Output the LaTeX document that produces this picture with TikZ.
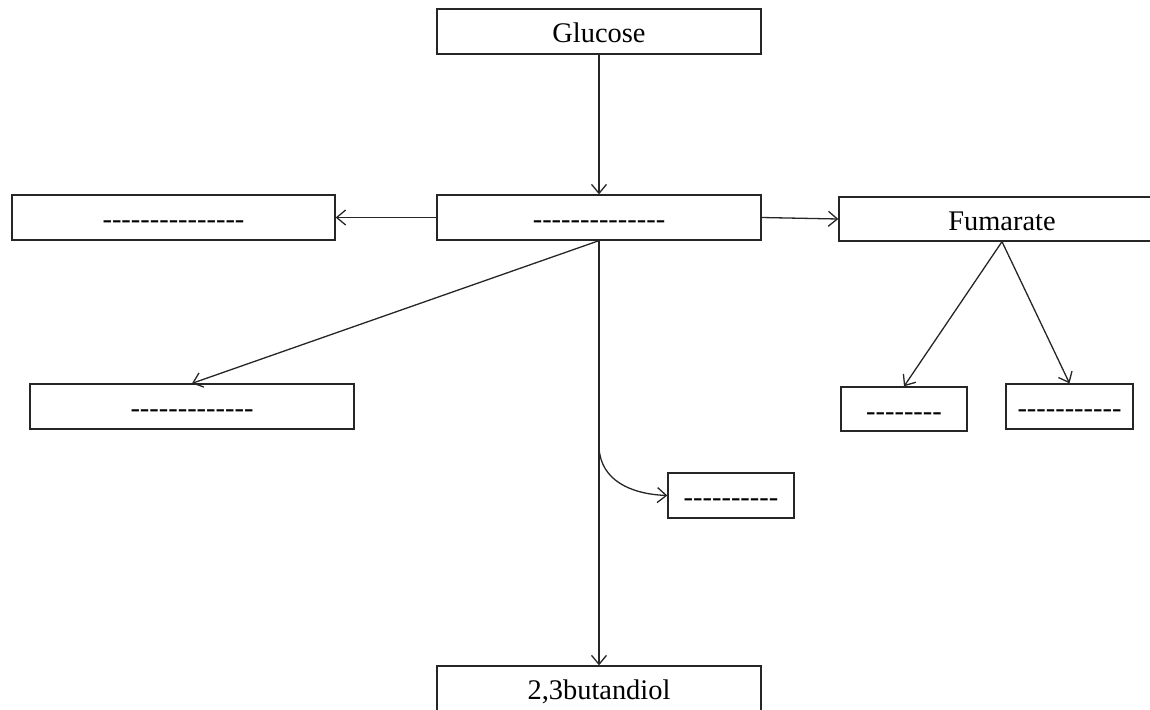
\documentclass[tikz,border=0pt]{standalone}
\usepackage{fontspec}
\setmainfont{Liberation Serif}
\usetikzlibrary{arrows.meta}
\ExplSyntaxOn
\cs_new:Npn \dashrow #1 {\prg_replicate:nn{#1}{-\kern0pt}}
\ExplSyntaxOff
\tikzset{
  box/.style={draw=black!85, line width=1.3pt, inner sep=0pt, minimum height=45pt,
    text height=22pt, text depth=0pt,
    font=\fontsize{28.4}{32}\selectfont, text=black},
  conn/.style={draw=black!85, line width=1.3pt, -{Straight Barb[length=9pt,width=15pt,line width=1.3pt]}}
}
\begin{document}
\begin{tikzpicture}[x=1pt,y=-1pt]
\useasboundingbox (0,0) rectangle (1150,709);
\clip (0,0) rectangle (1150,709);
\node[box, minimum width=324pt] (glu) at (599,31.5) {Glucose};
\node[box, minimum width=324pt] (mid) at (599,217.5) {\dashrow{14}};
\node[box, minimum width=323pt] (left) at (173.5,217.5) {\dashrow{15}};
\node[box, minimum width=326pt, minimum height=44pt] (fum) at (1002,219) {Fumarate};
\node[box, minimum width=324pt] (ll) at (192,406.5) {\dashrow{13}};
\node[box, minimum width=126pt, minimum height=44pt] (s1) at (904,409) {\dashrow{8}};
\node[box, minimum width=127pt] (s2) at (1069.5,406.5) {\dashrow{11}};
\node[box, minimum width=126pt] (s3) at (731,495.5) {\dashrow{10}};
\node[box, minimum width=324pt] (bot) at (599,688.5) {2,3butandiol};
\coordinate (cb) at (599,448);
\draw[conn] (glu.south) -- (mid.north);
\draw[conn] (mid.west) -- (left.east);
\draw[conn] (mid.east) -- (fum.west);
\draw[conn] (mid.south) -- (ll.north);
\draw[conn] (mid.south) -- (bot.north);
\draw[conn] (fum.south) -- (s1.north);
\draw[conn] (fum.south) -- (s2.north);
\draw[conn] (cb) .. controls (601,480) and (630,494) .. (s3.west);
\end{tikzpicture}
\end{document}
